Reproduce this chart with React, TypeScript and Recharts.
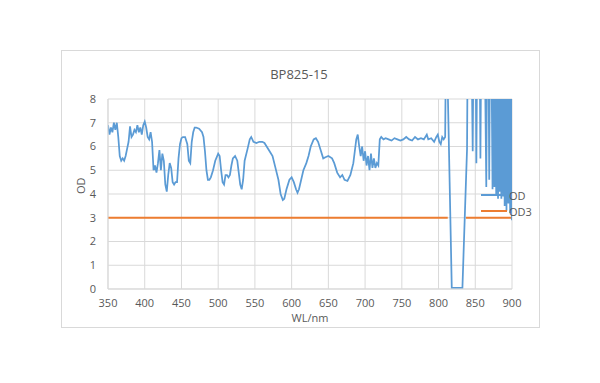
import React from "react";
import { LineChart, Line, XAxis, YAxis, CartesianGrid, Legend } from "recharts";

const wavelengths: number[] = [
  350, 352, 354, 356, 358, 360, 362, 364, 366, 368, 370, 372, 374, 376, 378, 380, 382, 384, 386, 388,
  390, 392, 394, 396, 398, 400, 402, 404, 406, 408, 410, 412, 414, 416, 418, 420, 422, 424, 426, 428,
  430, 432, 434, 436, 438, 440, 442, 444, 446, 448, 450, 452, 455, 458, 460, 462, 464, 466, 468, 470,
  474, 478, 480, 482, 484, 486, 488, 490, 493, 496, 500, 502, 504, 506, 508, 510, 512, 514, 516, 518,
  520, 523, 526, 528, 530, 532, 534, 536, 540, 543, 545, 548, 552, 556, 560, 563, 566, 570, 574, 578,
  582, 585, 588, 590, 593, 597, 600, 603, 606, 608, 610, 613, 616, 620, 623, 626, 630, 633, 636, 640,
  643, 646, 650, 655, 658, 662, 666, 669, 672, 676, 680, 684, 686, 688, 690, 692, 694, 696, 698, 700,
  702, 704, 706, 708, 710, 712, 714, 716, 718, 720, 722, 725, 728, 732, 736, 740, 744, 748, 752, 756,
  760, 764, 768, 772, 776, 780, 784, 786, 790, 794, 797, 799, 801, 803, 805, 807, 809, 810, 811.5, 818,
  832.5, 838.8, 839.6, 845, 846.5, 847.5, 850.5, 851.5, 852.5, 856, 857, 858, 863, 865, 866, 868, 869,
  870, 872, 873.5, 874.5, 876, 877, 878.5, 879.5, 881, 882, 883, 884, 885.5, 886.5, 888, 889, 890, 891,
  892.5, 893.5, 895, 896, 897.5, 898.5, 900,
];

const odValues: number[] = [
  6.9, 6.5, 6.8, 6.6, 7.0, 6.7, 7.0, 6.4, 5.6, 5.4, 5.5, 5.4, 5.6, 5.9, 6.2, 6.85, 6.4, 6.5, 6.7, 6.6,
  6.9, 6.6, 6.8, 6.5, 6.9, 7.05, 6.8, 6.4, 6.3, 6.6, 6.2, 5.0, 5.2, 4.9, 5.3, 5.85, 5.0, 5.7, 5.4, 4.4,
  4.1, 4.8, 5.3, 5.1, 4.5, 4.4, 4.5, 4.5, 5.5, 6.1, 6.35, 6.4, 6.4, 6.1, 5.4, 5.3, 6.2, 6.6, 6.8, 6.8,
  6.75, 6.6, 6.4, 5.8, 5.0, 4.6, 4.6, 4.7, 5.0, 5.4, 5.7, 5.6, 5.0, 4.5, 4.4, 4.8, 4.8, 4.7, 4.8, 5.2,
  5.5, 5.6, 5.4, 4.9, 4.4, 4.2, 4.6, 5.4, 5.9, 6.3, 6.4, 6.2, 6.15, 6.2, 6.2, 6.15, 6.0, 5.8, 5.6, 5.1,
  4.6, 4.0, 3.75, 3.8, 4.2, 4.6, 4.7, 4.5, 4.2, 4.05, 4.2, 4.6, 5.0, 5.3, 5.6, 6.0, 6.3, 6.35, 6.2, 5.8,
  5.5, 5.55, 5.6, 5.5, 5.3, 4.9, 4.7, 4.8, 4.6, 4.55, 4.8, 5.3, 5.8, 6.3, 6.5, 6.0, 5.6, 6.0, 5.4, 5.8,
  5.2, 5.6, 5.0, 5.7, 5.1, 5.5, 5.1, 5.3, 5.2, 6.3, 6.4, 6.3, 6.35, 6.3, 6.25, 6.35, 6.3, 6.25, 6.3, 6.4,
  6.3, 6.25, 6.4, 6.3, 6.35, 6.3, 6.5, 6.3, 6.35, 6.2, 6.4, 6.5, 6.2, 6.1, 6.4, 6.3, 6.4, 10, 10, 0.05,
  0.05, 5.9, 10, 10, 5.8, 10, 10, 5.3, 10, 10, 5.5, 10, 10, 4.3, 10, 10, 4.6,
  10, 10, 4.2, 10, 4.3, 10, 4.0, 10, 3.8, 10, 4.1, 10, 3.8, 10, 3.9, 10, 3.5, 10,
  3.3, 10, 3.6, 10, 3.2, 10, 2.9,
];

const od3Wavelengths: number[] = [350, 812.5, 812.6, 837.4, 900];
const od3Values: (number | null)[] = [3, 3, null, 3, 3];

const xTicks: number[] = [350, 400, 450, 500, 550, 600, 650, 700, 750, 800, 850, 900];
const yTicks: number[] = [0, 1, 2, 3, 4, 5, 6, 7, 8];

const odData = wavelengths.map((wl, i) => ({ wl, od: odValues[i] }));
const od3Data = od3Wavelengths.map((wl, i) => ({ wl, od3: od3Values[i] }));

const FONT = "'Open Sans', sans-serif";
const TEXT = "#595959";
const GRID = "#d9d9d9";
const BLUE = "#5b9bd5";
const ORANGE = "#ed7d31";

const renderLegend = (props: any) => {
  const items = props.payload || [];
  return (
    <div style={{ fontFamily: FONT, fontSize: 11, color: TEXT }}>
      {items.map((it: any) => (
        <div key={it.value} style={{ display: "flex", alignItems: "center", height: 16 }}>
          <div style={{ width: 26, height: 2, background: it.color, marginRight: 2 }} />
          <span>{it.value}</span>
        </div>
      ))}
    </div>
  );
};

export default function App() {
  return (
    <div style={{ position: "absolute", left: 0, top: 0, width: 600, height: 383, background: "#fff" }}>
      <div
        style={{
          position: "absolute",
          left: 61,
          top: 50,
          width: 477,
          height: 276,
          border: `1px solid ${GRID}`,
        }}
      />
      <div
        style={{
          position: "absolute",
          left: 0,
          top: 65,
          width: 598,
          textAlign: "center",
          fontFamily: FONT,
          fontSize: 13,
          color: TEXT,
        }}
      >
        BP825-15
      </div>
      <div style={{ position: "absolute", left: 0, top: 0 }}>
        <LineChart
          width={600}
          height={383}
          margin={{ top: 99, right: 88, bottom: 64, left: 78 }}
        >
          <CartesianGrid stroke={GRID} horizontalValues={yTicks} verticalValues={xTicks} />
          <XAxis
            dataKey="wl"
            type="number"
            domain={[350, 900]}
            ticks={xTicks}
            allowDataOverflow
            height={30}
            axisLine={{ stroke: GRID }}
            tickLine={false}
            tick={{ fontFamily: FONT, fontSize: 11, fill: TEXT }}
            tickMargin={4}
            label={{ value: "WL/nm", position: "insideBottom", offset: -3, fontFamily: FONT, fontSize: 11, fill: TEXT }}
          />
          <YAxis
            type="number"
            domain={[0, 8]}
            ticks={yTicks}
            allowDataOverflow
            width={30}
            axisLine={{ stroke: GRID }}
            tickLine={false}
            tick={{ fontFamily: FONT, fontSize: 11, fill: TEXT }}
            tickMargin={6}
            label={{ value: "OD", angle: -90, position: "insideLeft", offset: 3, fontFamily: FONT, fontSize: 11, fill: TEXT }}
          />
          <Legend
            content={renderLegend}
            layout="vertical"
            align="center"
            verticalAlign="middle"
            wrapperStyle={{ position: "absolute", left: 481, top: 187, width: 60 }}
          />
          <Line
            data={od3Data}
            dataKey="od3"
            name="OD3"
            stroke={ORANGE}
            strokeWidth={2}
            dot={false}
            isAnimationActive={false}
            connectNulls={false}
            legendType="line"
          />
          <Line
            data={odData}
            dataKey="od"
            name="OD"
            stroke={BLUE}
            strokeWidth={1.75}
            dot={false}
            isAnimationActive={false}
            legendType="line"
          />
        </LineChart>
      </div>
    </div>
  );
}
